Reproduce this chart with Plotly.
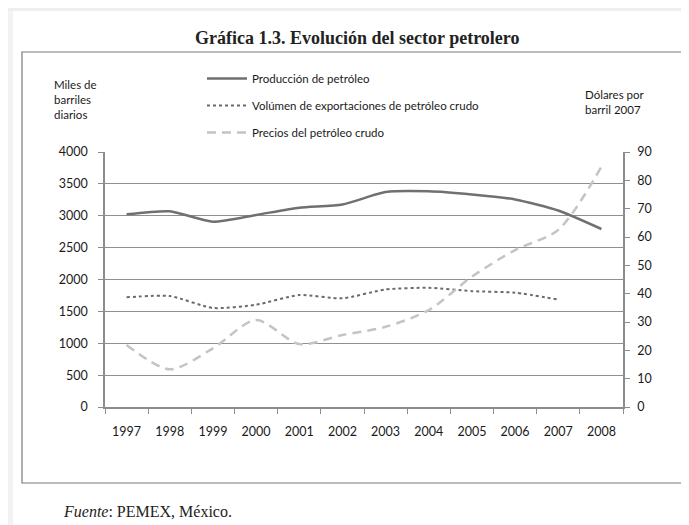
import plotly.graph_objects as go

years = ["1997", "1998", "1999", "2000", "2001", "2002", "2003", "2004", "2005", "2006", "2007", "2008"]
produccion = [3022, 3070, 2906, 3012, 3127, 3177, 3371, 3383, 3333, 3256, 3082, 2792]
exportaciones = [1721, 1741, 1553, 1604, 1756, 1705, 1844, 1870, 1817, 1793, 1686, None]
precios = [21.9, 13.3, 20.7, 30.7, 22.2, 25.4, 28.3, 34.2, 46.0, 55.4, 62.5, 84.8]

left_ticks = [0, 500, 1000, 1500, 2000, 2500, 3000, 3500, 4000]
right_ticks = [0, 10, 20, 30, 40, 50, 60, 70, 80, 90]

# the page body adds an 8px margin; work in screen pixels and shift
OFF = 8
W, H = 689 - OFF, 525 - OFF
L, R, T, B = 105 - OFF, 623 - OFF, 152 - OFF, 407 - OFF


def px(x):
    return (x - OFF - L) / (R - L)


def py(y):
    return (B - (y - OFF)) / (B - T)


FONT = "Lato, 'Open Sans', sans-serif"
TXT = "#1a1a1a"

fig = go.Figure()
fig.add_trace(go.Scatter(x=years, y=produccion, name="Producción de petróleo", mode="lines",
                         line=dict(color="#707070", width=2.5, shape="spline", smoothing=0.6),
                         legendgroup="a"))
fig.add_trace(go.Scatter(x=years, y=exportaciones, name="Volúmen de exportaciones de petróleo crudo", mode="lines",
                         line=dict(color="#6a6a6a", width=2, dash="dot", shape="spline", smoothing=0.6),
                         legendgroup="b"))
fig.add_trace(go.Scatter(x=years, y=precios, name="Precios del petróleo crudo", mode="lines", yaxis="y2",
                         line=dict(color="#c4c4c4", width=2.5, dash="9px,6px", shape="spline", smoothing=0.8),
                         legendgroup="c"))

shapes = [
    dict(type="rect", xref="paper", yref="paper", x0=px(0), x1=px(689), y0=py(0), y1=py(11),
         fillcolor="#eeeeee", line=dict(width=0), layer="below"),
    dict(type="rect", xref="paper", yref="paper", x0=px(0), x1=px(13), y0=py(11), y1=py(525),
         fillcolor="#f2f2f2", line=dict(width=0), layer="below"),
    dict(type="rect", xref="paper", yref="paper", x0=px(22), x1=px(687), y0=py(52), y1=py(483),
         fillcolor="rgba(0,0,0,0)", line=dict(color="#7a7a7a", width=1.2), layer="below"),
]

annotations = [
    dict(text="<b>Gráfica 1.3. Evolución del sector petrolero</b>", xref="paper", yref="paper",
         x=px(357), y=py(38), xanchor="center", yanchor="middle", showarrow=False,
         font=dict(family="'Liberation Serif', serif", size=18, color="#222")),
    dict(text="Miles de<br>barriles<br>diarios", xref="paper", yref="paper", x=px(52), y=py(76),
         xanchor="left", yanchor="top", align="left", showarrow=False,
         font=dict(family=FONT, size=11.5, color=TXT)),
    dict(text="Dólares por<br>barril 2007", xref="paper", yref="paper", x=px(583), y=py(86),
         xanchor="left", yanchor="top", align="left", showarrow=False,
         font=dict(family=FONT, size=11.5, color=TXT)),
    dict(text="<i>Fuente</i>: PEMEX, México.", xref="paper", yref="paper", x=px(61), y=py(512),
         xanchor="left", yanchor="middle", showarrow=False,
         font=dict(family="'Liberation Serif', serif", size=16, color="#222")),
]

fig.update_layout(
    width=W, height=H,
    margin=dict(l=L, r=W - R, t=T, b=H - B, pad=0),
    paper_bgcolor="white", plot_bgcolor="white",
    font=dict(family=FONT, size=12.5, color=TXT),
    shapes=shapes, annotations=annotations,
    showlegend=True,
    legend=dict(x=px(202), y=py(64), xanchor="left", yanchor="top",
                traceorder="grouped", tracegroupgap=8,
                font=dict(family=FONT, size=11.5, color=TXT),
                bgcolor="rgba(0,0,0,0)", itemwidth=40),
    xaxis=dict(type="category", range=[-0.5, 11.5], showgrid=False, showline=True, linecolor="#8c8c8c",
               linewidth=1.5, ticks="outside", tickson="boundaries", ticklen=5, tickcolor="#8c8c8c",
               ticklabelstandoff=12, tickfont=dict(size=12.5, color=TXT), fixedrange=True),
    yaxis=dict(range=[0, 4000], tickvals=left_ticks, showgrid=True, gridcolor="#8f8f8f", gridwidth=1,
               showline=True, linecolor="#8c8c8c", linewidth=1.5, ticks="outside", ticklen=5,
               ticklabelstandoff=8, tickcolor="#8c8c8c", tickfont=dict(size=12.5, color=TXT),
               zeroline=False),
    yaxis2=dict(range=[0, 90], tickvals=right_ticks, overlaying="y", side="right", showgrid=False,
                showline=True, linecolor="#8c8c8c", linewidth=1.5, ticks="outside", ticklen=5,
                ticklabelstandoff=5, tickcolor="#8c8c8c", tickfont=dict(size=12.5, color=TXT),
                zeroline=False),
)

fig.write_html("out.html")
